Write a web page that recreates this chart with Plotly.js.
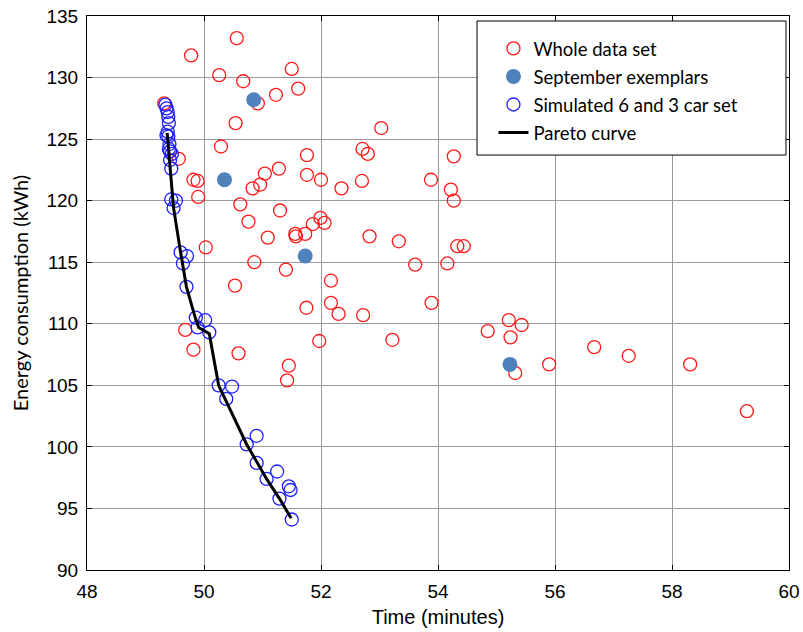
<!DOCTYPE html>
<html>
<head>
<meta charset="utf-8">
<script src="https://cdn.plot.ly/plotly-3.0.1.min.js"></script>
<style>
  html, body { margin: 0; padding: 0; background: #fff; }
  #chart { width: 803px; height: 632px; }
</style>
</head>
<body>
<div id="chart"></div>
<script>
// Whole data set (time in minutes, energy in kWh)
const wholeTime = [49.32,49.78,50.56,50.26,50.67,51.50,51.61,51.23,50.92,50.54,
  50.29,49.57,49.82,49.89,49.90,51.76,51.28,51.04,51.76,52.00,
  50.96,50.83,50.62,51.30,50.76,51.86,51.99,52.06,51.56,51.57,
  51.73,51.09,50.03,50.86,51.40,52.17,50.53,51.75,52.17,52.30,
  49.68,51.97,49.82,50.59,51.45,51.42,52.35,52.70,53.88,54.22,
  54.27,53.03,52.71,52.80,54.27,52.83,53.33,54.33,54.44,53.61,
  54.16,52.72,53.89,53.22,54.85,55.21,55.43,55.24,55.32,55.90,
  56.67,57.26,58.31,59.28];
const wholeEnergy = [127.9,131.8,133.2,130.2,129.7,130.7,129.1,128.6,127.9,126.3,
  124.4,123.4,121.7,121.6,120.3,123.7,122.6,122.2,122.1,121.7,
  121.3,121.0,119.7,119.2,118.3,118.1,118.6,118.2,117.3,117.1,
  117.3,117.0,116.2,115.0,114.4,113.5,113.1,111.3,111.7,110.8,
  109.5,108.6,107.9,107.6,106.6,105.4,121.0,121.6,121.7,120.9,
  120.0,125.9,124.2,123.8,123.6,117.1,116.7,116.3,116.3,114.8,
  114.9,110.7,111.7,108.7,109.4,110.3,109.9,108.9,106.0,106.7,
  108.1,107.4,106.7,102.9];

// September exemplars
const septTime = [50.85, 50.35, 51.73, 55.23];
const septEnergy = [128.2, 121.7, 115.5, 106.7];

// Simulated 6 and 3 car set
const simTime = [49.34,49.36,49.38,49.39,49.40,49.38,49.36,49.39,49.41,49.40,
  49.42,49.45,49.42,49.44,49.44,49.52,49.48,
  49.60,49.71,49.64,49.70,49.86,50.02,49.89,50.09,
  50.25,50.48,50.38,50.90,50.73,50.90,51.25,51.07,51.45,51.48,51.29,51.50];
const simEnergy = [127.8,127.5,127.2,126.8,126.3,125.6,125.3,125.2,124.6,124.2,
  124.0,123.8,123.3,122.6,120.1,120.0,119.4,
  115.8,115.5,114.9,113.0,110.5,110.3,109.7,109.3,
  105.0,104.9,103.9,100.9,100.2,98.7,98.0,97.4,96.8,96.5,95.8,94.1];

// Pareto curve
const paretoTime = [49.37,49.48,49.60,49.70,49.85,49.91,50.09,50.25,50.73,51.07,51.29,51.49];
const paretoEnergy = [125.5,119.4,115.8,113.0,110.5,109.7,109.2,105.0,100.2,97.4,95.8,94.2];

const tickFont = {family: 'Liberation Sans, Arial, sans-serif', size: 19, color: '#000'};

const traces = [
  {
    x: wholeTime, y: wholeEnergy, type: 'scatter', mode: 'markers',
    name: 'Whole data set', legendgroup: 'a',
    marker: {symbol: 'circle-open', size: 13, color: '#ff1a1a', line: {width: 1.3}}
  },
  {
    x: septTime, y: septEnergy, type: 'scatter', mode: 'markers',
    name: 'September exemplars', legendgroup: 'b',
    marker: {symbol: 'circle', size: 15, color: '#4f81bd'}
  },
  {
    x: simTime, y: simEnergy, type: 'scatter', mode: 'markers',
    name: 'Simulated 6 and 3 car set', legendgroup: 'c',
    marker: {symbol: 'circle-open', size: 13, color: '#1f1fff', line: {width: 1.3}}
  },
  {
    x: paretoTime, y: paretoEnergy, type: 'scatter', mode: 'lines',
    name: 'Pareto curve', legendgroup: 'd',
    line: {color: '#000', width: 3}
  }
];

const axisCommon = {
  ticks: 'inside', ticklen: 5, tickcolor: '#000', tickwidth: 1,
  showline: true, linecolor: '#000', linewidth: 1, mirror: 'allticks',
  showgrid: true, gridcolor: '#9a9a9a', gridwidth: 1,
  zeroline: false, tickfont: tickFont, ticklabelstandoff: 4
};

const layout = {
  width: 803, height: 632,
  margin: {l: 87, r: 14, t: 16, b: 62},
  paper_bgcolor: '#fff', plot_bgcolor: '#fff',
  xaxis: Object.assign({}, axisCommon, {
    range: [48, 60], tick0: 48, dtick: 2,
    title: {text: 'Time (minutes)', font: {family: 'Liberation Sans, Arial, sans-serif', size: 20, color: '#000'}, standoff: 9}
  }),
  yaxis: Object.assign({}, axisCommon, {
    range: [90, 135], tick0: 90, dtick: 5,
    title: {text: 'Energy consumption (kWh)', font: {family: 'Lato, sans-serif', size: 20, color: '#000'}, standoff: 12}
  }),
  showlegend: true,
  legend: {
    x: 0.579, y: 0.975, xanchor: 'left', yanchor: 'top',
    bgcolor: 'rgba(0,0,0,0)', borderwidth: 0,
    traceorder: 'grouped', tracegroupgap: 1,
    font: {family: 'Lato, sans-serif', size: 18.5, color: '#000'}
  },
  shapes: [{
    type: 'rect', xref: 'paper', yref: 'paper',
    x0: 0.5556, x1: 0.9957, y0: 0.749, y1: 0.991,
    line: {color: '#000', width: 1}, fillcolor: '#fff', layer: 'above'
  }]
};

Plotly.newPlot('chart', traces, layout, {displayModeBar: false, staticPlot: true});
</script>
</body>
</html>
